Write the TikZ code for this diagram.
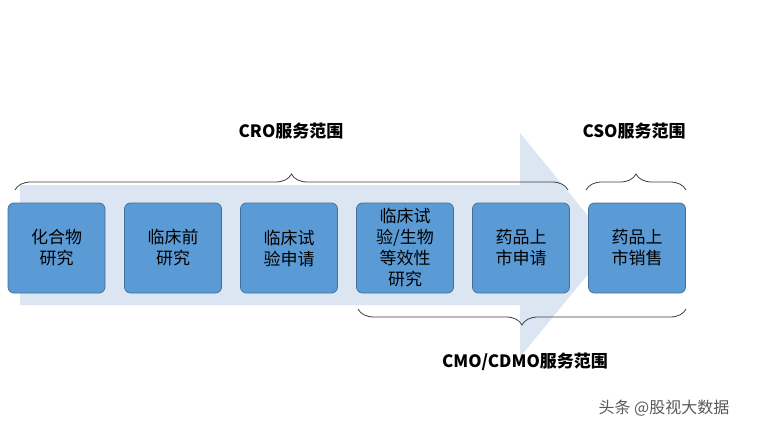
\documentclass[tikz,border=0pt]{standalone}
\usepackage{fontspec}
\setmainfont{Noto Sans CJK SC}
\usetikzlibrary{decorations.pathreplacing}
\definecolor{stepblue}{HTML}{5B9BD5}
\definecolor{stepedge}{HTML}{41719C}
\definecolor{bandblue}{HTML}{DCE6F2}
\tikzset{
  stage/.style = {rectangle, draw=stepedge, fill=stepblue, line width=0.8pt,
    rounded corners=6pt, minimum width=97pt, minimum height=90pt,
    text width=80pt, align=center, font=\fontsize{17}{21}\selectfont},
  scope brace/.style = {draw=black!75, line width=0.8pt,
    decorate, decoration={brace, amplitude=16pt}},
  scope label/.style = {font=\bfseries\fontsize{17}{20}\selectfont}
}
\begin{document}
\begin{tikzpicture}[x=1pt, y=-1pt]
	\useasboundingbox (0,0) rectangle (782,428);
	\fill[white] (0,0) rectangle (782,428);
	% Band arrow
	\fill[bandblue] (20,185) -- (520,185) -- (520,133) -- (612,245)
	  -- (520,357) -- (520,305) -- (20,305) -- cycle;
	% Place nodes
	\node [stage] (compound) at (56.5,248) {化合物\\研究};
	\node [stage] (preclin) at (173,248) {临床前\\研究};
	\node [stage] (trialapp) at (289,248) {临床试\\验申请};
	\node [stage] (trial) at (405,248) {临床试\\验/生物\\等效性\\研究};
	\node [stage] (launchapp) at (521,248) {药品上\\市申请};
	\node [stage] (sales) at (637,248) {药品上\\市销售};
	% Braces
	\coordinate (croL) at (15,190);
	\coordinate (croR) at (568,190);
	\coordinate (csoL) at (586,190);
	\coordinate (csoR) at (686,190);
	\coordinate (cmoL) at (358,309);
	\coordinate (cmoR) at (686,309);
	\draw [scope brace] (croL) -- (croR);
	\draw [scope brace] (csoL) -- (csoR);
	\draw [scope brace] (cmoR) -- (cmoL);
	\node [scope label] (cro) at (291,131) {CRO服务范围};
	\node [scope label] (cso) at (634,131) {CSO服务范围};
	\node [scope label] (cmo) at (525,362) {CMO/CDMO服务范围};
	\node [text=black!65, font=\fontsize{16}{19}\selectfont] (mark) at (664,408) {头条 @股视大数据};
\end{tikzpicture}
\end{document}
